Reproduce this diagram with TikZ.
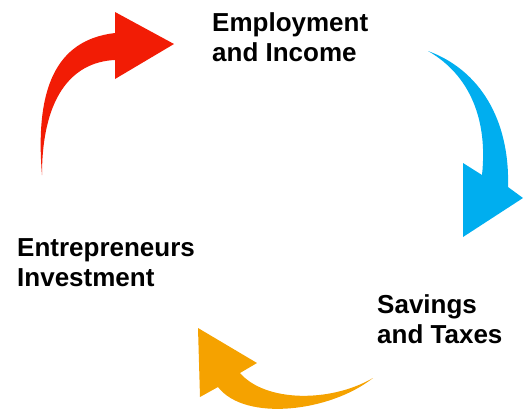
\documentclass[tikz,border=0pt]{standalone}
\usepackage{fontspec}
\setmainfont{Liberation Sans}
\usepackage{xcolor}
\usepackage{tikz}
\usetikzlibrary{positioning}
\definecolor{CycRed}{HTML}{F21C05}
\definecolor{CycBlue}{HTML}{00AEEF}
\definecolor{CycOrange}{HTML}{F5A200}

\begin{document}
\begin{tikzpicture}[x=1pt, y=-1pt,
  stagetext/.style={font=\fontsize{26}{30}\selectfont\bfseries, align=left, inner sep=0pt, anchor=base west},
  bentarrow/.style={draw=none}]
  \useasboundingbox (0,0) rectangle (523,413);

  % base anchor sits on the second line
  \node[stagetext] (emp) at (212,61) {Employment\\and Income};
  \node[stagetext] (sav) at (377,343) {Savings\\and Taxes};
  \node[stagetext] (ent) at (17,286) {Entrepreneurs\\Investment};

  % curved arrows, thin at the tail and widening towards the head
  \fill[bentarrow, CycRed] (42,175) .. controls (35,90) and (55,40) .. (115,33)
    -- (115,12) -- (174,44) -- (115,79) -- (115,60)
    .. controls (70,62) and (42,100) .. (42,175) -- cycle;
  \fill[bentarrow, CycBlue] (428,51) .. controls (480,70) and (510,120) .. (508,187)
    -- (523,198) -- (463,237) -- (463,163) -- (482,175)
    .. controls (488,120) and (470,75) .. (428,51) -- cycle;
  \fill[bentarrow, CycOrange] (373,378) .. controls (330,412) and (245,422) .. (218,387)
    -- (200,397) -- (198,328) -- (257,363) -- (240,373)
    .. controls (265,402) and (330,403) .. (373,378) -- cycle;
\end{tikzpicture}
\end{document}
